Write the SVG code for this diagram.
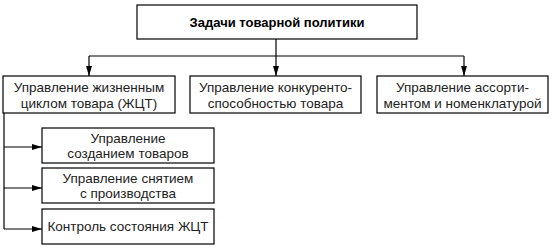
<svg xmlns="http://www.w3.org/2000/svg" width="556" height="249" viewBox="0 0 556 249">
<defs>
<marker id="arr" viewBox="0 0 10 6" refX="10" refY="3" markerWidth="10" markerHeight="6" markerUnits="userSpaceOnUse" orient="auto">
<path d="M0,0 L10,3 L0,6 Z" fill="#000"/>
</marker>
</defs>
<style>
.box{fill:#fff;stroke:#000;stroke-width:1.2}
.t{font-family:"Liberation Sans",Arial,sans-serif;font-size:13.5px;fill:#222;text-anchor:middle}
.b{font-weight:bold;fill:#000;font-size:13px}
.ln{fill:none;stroke:#000;stroke-width:1.2}
</style>
<rect width="556" height="249" fill="#fff"/>
<g id="connectors">
<path class="ln" d="M276,39 V76" marker-end="url(#arr)"/>
<path class="ln" d="M89,56 H464"/>
<path class="ln" d="M89,56 V76" marker-end="url(#arr)"/>
<path class="ln" d="M464,56 V76" marker-end="url(#arr)"/>
<path class="ln" d="M4,113 V229"/>
<path class="ln" d="M4,147 H42" marker-end="url(#arr)"/>
<path class="ln" d="M4,188 H42" marker-end="url(#arr)"/>
<path class="ln" d="M4,229 H42" marker-end="url(#arr)"/>
</g>
<g id="top">
<rect class="box" x="137" y="5" width="280" height="34"/>
<text class="t b" x="277" y="27">Задачи товарной политики</text>
</g>
<g id="n1">
<rect class="box" x="3" y="76" width="172" height="37"/>
<text class="t" x="89" y="92">Управление жизненным</text>
<text class="t" x="89" y="108">циклом товара (ЖЦТ)</text>
</g>
<g id="n2">
<rect class="box" x="190" y="76" width="171" height="37"/>
<text class="t" x="275.5" y="92">Управление конкуренто-</text>
<text class="t" x="275.5" y="108">способностью товара</text>
</g>
<g id="n3">
<rect class="box" x="377" y="76" width="171" height="37"/>
<text class="t" x="462.5" y="92">Управление ассорти-</text>
<text class="t" x="462.5" y="108">ментом и номенклатурой</text>
</g>
<g id="s1">
<rect class="box" x="42" y="128" width="172" height="35"/>
<text class="t" x="128" y="143">Управление</text>
<text class="t" x="128" y="158">созданием товаров</text>
</g>
<g id="s2">
<rect class="box" x="42" y="168" width="172" height="35"/>
<text class="t" x="128" y="183">Управление снятием</text>
<text class="t" x="128" y="198">с производства</text>
</g>
<g id="s3">
<rect class="box" x="42" y="209" width="172" height="35"/>
<text class="t" x="128" y="231">Контроль состояния ЖЦТ</text>
</g>
</svg>
